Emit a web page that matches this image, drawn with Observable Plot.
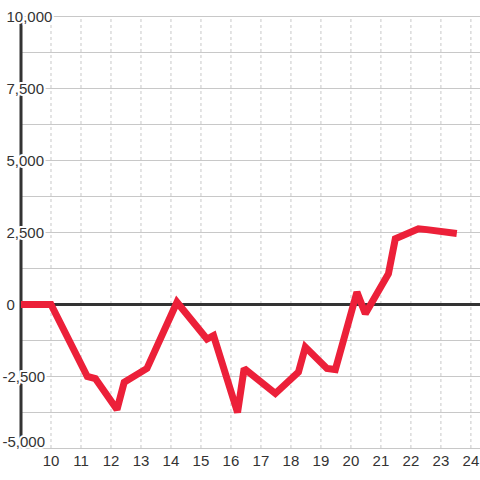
<!DOCTYPE html>
<html><head><meta charset="utf-8">
<script src="https://cdn.jsdelivr.net/npm/d3@7"></script>
<script src="https://cdn.jsdelivr.net/npm/@observablehq/plot@0.6"></script>
<style>body{margin:0;background:#fff;}</style>
</head><body><div id="chart"></div>
<script>
const xs = [9, 10, 11.21, 11.48, 12.2, 12.44, 13.2, 14.2, 15.2, 15.42, 16.22, 16.44, 17.48, 18.25, 18.48, 19.2, 19.48, 20.2, 20.48, 21.25, 21.48, 22.25, 22.53, 23.53];
const values = [0, 0, -2500, -2570, -3650, -2700, -2220, 80, -1200, -1080, -3750, -2220, -3090, -2350, -1480, -2220, -2260, 430, -320, 1065, 2280, 2630, 2600, 2465];
const yTicks = [-5000, -2500, 0, 2500, 5000, 7500, 10000];
const yGrid = [-5000, -3750, -2500, -1250, 1250, 2500, 3750, 5000, 6250, 7500, 8750, 10000];
const xTicks = [10, 11, 12, 13, 14, 15, 16, 17, 18, 19, 20, 21, 22, 23, 24];

const data = xs.map((x, i) => ({x, y: values[i]}));
const fmt = d3.format(",");
const X0 = 9, X1 = 24.32;
const labelStyle = {fill: "#333", stroke: "#fff", strokeWidth: 4, paintOrder: "stroke", strokeLinejoin: "round", textAnchor: "start"};

const chart = Plot.plot({
  width: 480, height: 480,
  marginLeft: 20.5, marginRight: 0, marginTop: 16, marginBottom: 32,
  style: {fontFamily: "'Liberation Sans', Arial, sans-serif", fontSize: "15px", color: "#333", background: "#fff"},
  x: {domain: [X0, X1], axis: null},
  y: {domain: [-5000, 10000], axis: null},
  marks: [
    Plot.ruleY(yGrid, {stroke: "#c8c8c8", strokeWidth: 1, strokeOpacity: 1}),
    Plot.ruleX(xTicks, {stroke: "#c8c8c8", strokeDasharray: "3,3", y1: -5000, y2: 10000, strokeOpacity: 1}),
    Plot.ruleX([X0], {stroke: "#333", strokeWidth: 3, y1: -5000, y2: 10000, strokeOpacity: 1}),
    Plot.ruleY([0], {stroke: "#333", strokeWidth: 3, strokeOpacity: 1}),
    Plot.line(data, {x: "x", y: "y", stroke: "#ec2039", strokeWidth: 7, strokeLinejoin: "miter", strokeLinecap: "butt", strokeMiterlimit: 2}),
    Plot.text(yTicks.filter(d => d >= 0), {...labelStyle, x: () => X0, y: d => d, text: d => fmt(d), dx: -14.5, dy: 1}),
    Plot.text(yTicks.filter(d => d < 0 && d > -5000), {...labelStyle, x: () => X0, y: d => d, text: d => fmt(d).replace("−", "-"), dx: -18.5, dy: 1}),
    Plot.text(yTicks.filter(d => d === -5000), {...labelStyle, x: () => X0, y: d => d, text: d => fmt(d).replace("−", "-"), dx: -18.5, dy: -6}),
    Plot.text(xTicks, {x: d => d, y: () => -5000, dy: 12.5, text: d => String(d), fill: "#333"})
  ]
});
document.getElementById("chart").appendChild(chart);
</script>
</body></html>
